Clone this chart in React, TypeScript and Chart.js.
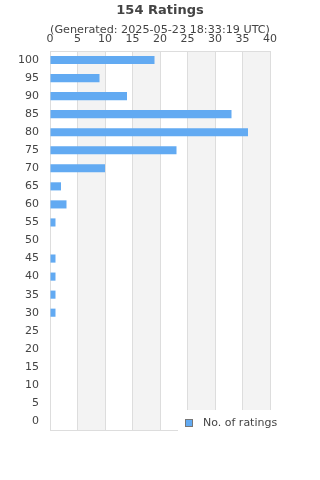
import React, { useEffect, useRef } from "react";
import { Chart, registerables } from "chart.js";

Chart.register(...registerables);

const TITLE = "154 Ratings";
const SUBTITLE = "(Generated: 2025-05-23 18:33:19 UTC)";
const LEGEND_LABEL = "No. of ratings";
const categories = ["100", "95", "90", "85", "80", "75", "70", "65", "60", "55", "50", "45", "40", "35", "30", "25", "20", "15", "10", "5", "0"];
const ratings = [19, 9, 14, 33, 36, 23, 10, 2, 3, 1, 0, 1, 1, 1, 1, 0, 0, 0, 0, 0, 0];
const xMax = 40;
const xStep = 5;

const FONT = "'DejaVu Sans', sans-serif";
const TEXT = "#444";
const GRID = "#dddddd";
const STRIPE = "#f3f3f3";
const BAR = "#62aaf2";

const decor = {
  id: "decor",
  beforeDraw(chart: any) {
    const { ctx, chartArea: a, scales } = chart;
    const x = scales.x;
    ctx.save();
    ctx.fillStyle = STRIPE;
    for (let v = xStep; v < xMax; v += 2 * xStep) {
      const l = x.getPixelForValue(v);
      const r = x.getPixelForValue(v + xStep);
      ctx.fillRect(l, a.top, r - l, a.bottom - a.top);
    }
    ctx.restore();
  },
  afterDraw(chart: any) {
    const { ctx, chartArea: a } = chart;
    ctx.save();
    ctx.strokeStyle = GRID;
    ctx.lineWidth = 1;
    ctx.beginPath();
    ctx.moveTo(a.left, Math.round(a.bottom) + 0.5);
    ctx.lineTo(a.right, Math.round(a.bottom) + 0.5);
    ctx.stroke();
    // legend box
    const lx = 178, ly = 410;
    ctx.fillStyle = "#ffffff";
    ctx.fillRect(lx, ly, a.right - lx + 1, a.bottom - ly + 1);
    ctx.fillStyle = BAR;
    ctx.fillRect(185.5, 419.5, 7, 7);
    ctx.strokeStyle = "#777";
    ctx.strokeRect(185.5, 419.5, 7, 7);
    ctx.fillStyle = TEXT;
    ctx.font = `11px ${FONT}`;
    ctx.textBaseline = "middle";
    ctx.textAlign = "left";
    ctx.fillText(LEGEND_LABEL, 203, 423);
    // titles
    ctx.textAlign = "center";
    ctx.font = `bold 13px ${FONT}`;
    ctx.fillText(TITLE, 160, 11);
    ctx.font = `11.2px ${FONT}`;
    ctx.fillText(SUBTITLE, 160, 30);
    ctx.restore();
  },
};

export default function App() {
  const ref = useRef<HTMLCanvasElement>(null);
  useEffect(() => {
    document.body.style.margin = "0";
    const chart = new Chart(ref.current!, {
      type: "bar",
      data: {
        labels: categories,
        datasets: [
          {
            label: LEGEND_LABEL,
            data: ratings,
            backgroundColor: BAR,
            borderWidth: 0,
            barPercentage: 0.9,
            categoryPercentage: 0.5,
          },
        ],
      },
      options: {
        indexAxis: "y",
        animation: false,
        responsive: false,
        devicePixelRatio: 1,
        layout: { padding: { top: 31, right: 50, bottom: 50, left: 0 } },
        plugins: { legend: { display: false }, title: { display: false }, tooltip: { enabled: false } },
        scales: {
          x: {
            position: "top",
            min: 0,
            max: xMax,
            ticks: { stepSize: xStep, color: TEXT, font: { family: FONT, size: 11 }, padding: 5 },
            grid: { color: GRID, drawTicks: false },
            border: { color: GRID },
            afterFit: (s: any) => { s.height = 20; },
          },
          y: {
            ticks: { color: TEXT, font: { family: FONT, size: 11 }, padding: 11, autoSkip: false },
            grid: { display: false, drawTicks: false },
            border: { color: GRID },
            afterFit: (s: any) => { s.width = 50; },
          },
        },
      },
      plugins: [decor],
    });
    return () => chart.destroy();
  }, []);
  return <canvas ref={ref} width={320} height={480} style={{ display: "block" }} />;
}
